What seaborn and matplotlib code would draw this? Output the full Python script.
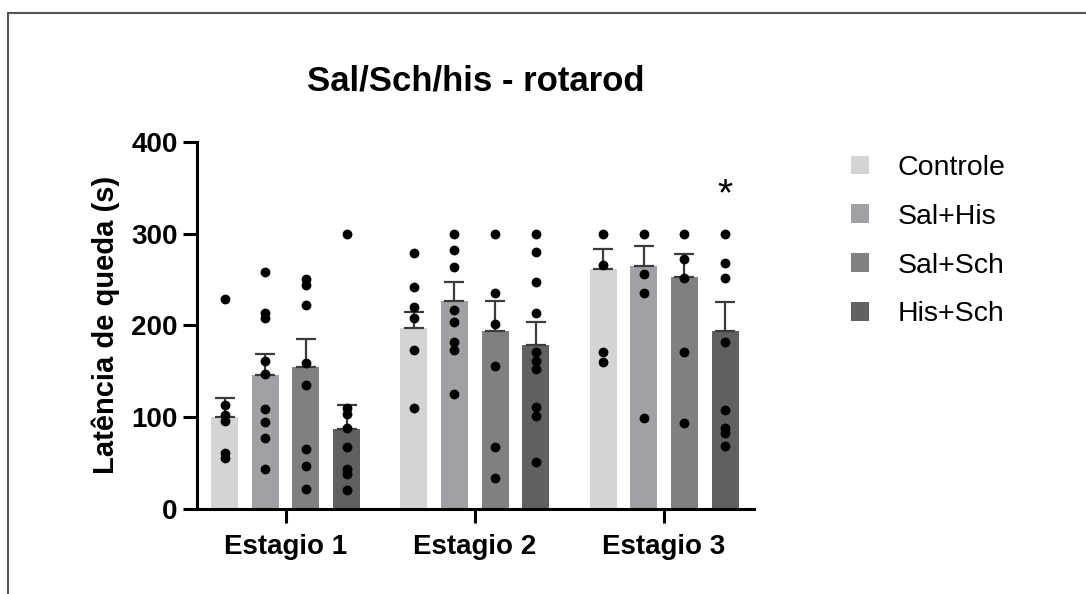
import numpy as np
import pandas as pd
import matplotlib
matplotlib.use("Agg")
import matplotlib.pyplot as plt
from matplotlib.patches import Patch
from matplotlib.lines import Line2D
import seaborn as sns

# ---------------- data ----------------
stages = ["Estagio 1", "Estagio 2", "Estagio 3"]
groups = ["Controle", "Sal+His", "Sal+Sch", "His+Sch"]
colors = ["#d4d4d4", "#a1a1a5", "#808080", "#606060"]

mean_controle = [100.5, 196.7, 261.0]
mean_salhis = [145.4, 226.8, 264.4]
mean_salsch = [154.4, 193.5, 253.0]
mean_hissch = [87.5, 178.3, 193.9]

sem_controle = [20.5, 18.3, 21.8]
sem_salhis = [23.6, 20.9, 22.0]
sem_salsch = [30.6, 33.3, 24.8]
sem_hissch = [26.1, 25.7, 31.4]

pts_controle = [
    [229, 113, 102, 96, 61, 55],
    [279, 242, 220, 208, 173, 110],
    [300, 266, 171, 160],
]
pts_salhis = [
    [258, 214, 208, 161, 147, 109, 95, 77, 44],
    [300, 282, 264, 217, 204, 182, 173, 125],
    [300, 256, 235, 99],
]
pts_salsch = [
    [251, 244, 222, 159, 135, 65, 47, 22],
    [300, 235, 202, 156, 67, 34],
    [300, 272, 252, 171, 94],
]
pts_hissch = [
    [300, 110, 103, 88, 67, 44, 38, 21],
    [300, 280, 247, 214, 171, 161, 152, 111, 101, 51],
    [300, 268, 252, 182, 108, 88, 83, 69],
]

yticks = [0, 100, 200, 300, 400]
title = "Sal/Sch/his - rotarod"
ylabel = "Latência de queda (s)"
star_label = "*"

# ---------------- tables ----------------
means = [mean_controle, mean_salhis, mean_salsch, mean_hissch]
sems = [sem_controle, sem_salhis, sem_salsch, sem_hissch]
pts = [pts_controle, pts_salhis, pts_salsch, pts_hissch]

rows = []
for g, m in zip(groups, means):
    for s, v in zip(stages, m):
        rows.append({"stage": s, "group": g, "value": v})
df_mean = pd.DataFrame(rows)

# ---------------- style ----------------
sns.set_style("ticks")
plt.rcParams["font.family"] = ["Liberation Sans", "DejaVu Sans"]
plt.rcParams["axes.linewidth"] = 2.2
plt.rcParams["text.color"] = "black"
plt.rcParams["axes.labelcolor"] = "black"
plt.rcParams["xtick.color"] = "black"
plt.rcParams["ytick.color"] = "black"

fig = plt.figure(figsize=(10.86, 5.94), dpi=100)
ax = fig.add_axes([0.1814, 0.1431, 0.5129, 0.6183])

WIDTH = 0.86
GAP = 0.337
sns.barplot(data=df_mean, x="stage", y="value", hue="group", order=stages,
            hue_order=groups, palette=colors, width=WIDTH, gap=GAP,
            errorbar=None, ax=ax, legend=False, linewidth=0, saturation=1)

pitch = WIDTH / len(groups)
centers = {}
for p in ax.patches:
    cx = p.get_x() + p.get_width() / 2
    si = int(round(cx))
    gi = int(round((cx - si) / pitch + 1.5))
    centers[(si, gi)] = cx

for gi in range(len(groups)):
    for si in range(len(stages)):
        cx = centers[(si, gi)]
        ax.errorbar([cx], [means[gi][si]], yerr=[[0], [sems[gi][si]]], fmt="none",
                    ecolor="#3c3c3c", elinewidth=1.6, capsize=7, capthick=1.6, zorder=3)
        yy = pts[gi][si]
        ax.scatter([cx] * len(yy), yy, s=50, color="black", zorder=4, linewidths=0)

# significance star on His+Sch, stage 3
ax.text(centers[(2, 3)], 322, star_label, ha="center", va="bottom",
        fontsize=28, fontweight="normal", color="black")

ax.set_xlim(-0.468, 2.475)
ax.set_ylim(0, 400)
ax.set_yticks(yticks)
ax.set_yticklabels([str(t) for t in yticks])
ax.set_xlabel("")
ax.set_ylabel(ylabel, fontsize=21, fontweight="bold", labelpad=8)
ax.set_title(title, fontsize=25, fontweight="bold", pad=37)
sns.despine(ax=ax)
ax.tick_params(axis="both", length=10, width=2.2, labelsize=20, color="black")
ax.tick_params(axis="x", pad=8)
ax.tick_params(axis="y", pad=4)
for lab in ax.get_xticklabels() + ax.get_yticklabels():
    lab.set_fontweight("bold")
ax.spines["left"].set_color("black")
ax.spines["bottom"].set_color("black")

handles = [Patch(facecolor=c, edgecolor="none", label=g) for g, c in zip(groups, colors)]
fig.legend(handles=handles, loc="upper left", bbox_to_anchor=(851 / 1086, 1 - 155 / 594),
           frameon=False, fontsize=20.5, handlelength=0.64, handleheight=0.64,
           handletextpad=1.0, labelspacing=0.8, borderpad=0, borderaxespad=0)

# outer frame lines (top and left)
fig.add_artist(Line2D([8 / 1086, 8 / 1086], [0, 1 - 13 / 594], transform=fig.transFigure,
                      color="#555555", lw=1.5))
fig.add_artist(Line2D([8 / 1086, 1], [1 - 13 / 594, 1 - 13 / 594], transform=fig.transFigure,
                      color="#555555", lw=1.5))

fig.savefig("out.png", dpi=100, facecolor="white")
